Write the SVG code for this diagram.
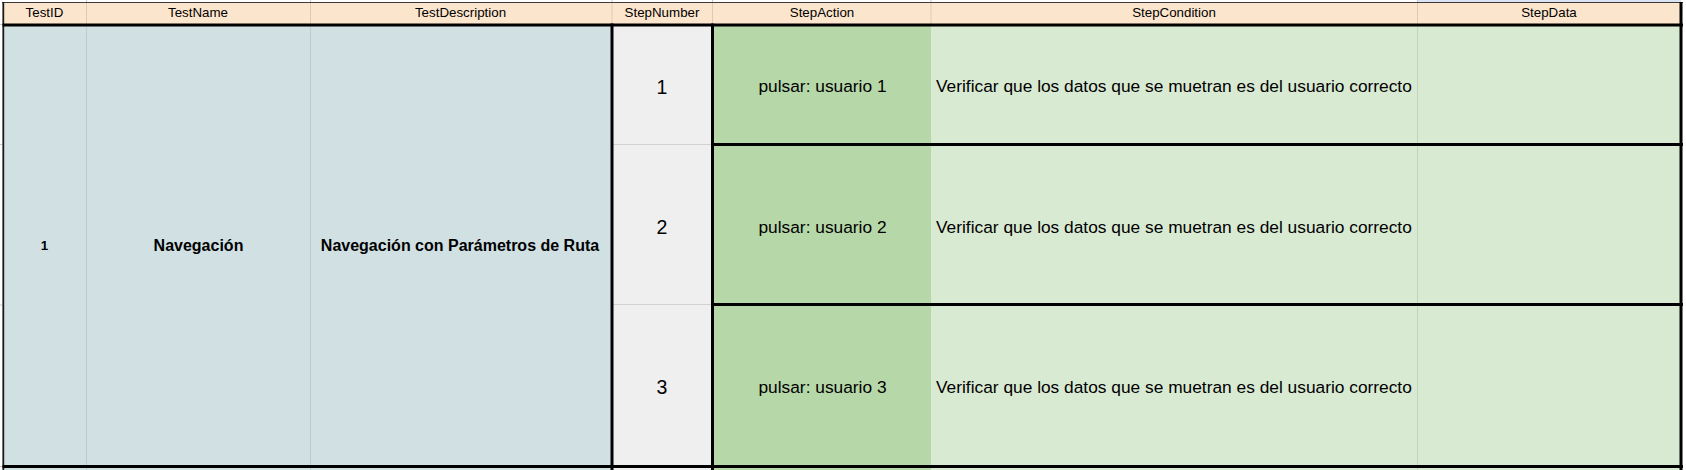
<svg xmlns="http://www.w3.org/2000/svg" width="1686" height="470" viewBox="0 0 1686 470">
<style>
.hd{fill:#fce5cd}
.bl{fill:#d0e0e3}
.gr{fill:#efefef}
.g2{fill:#b6d7a8}
.g3{fill:#d9ead3}
.ht{font-family:"Liberation Sans",Arial,sans-serif;font-size:13.33px;fill:#000;text-anchor:middle}
.bt{font-family:"Liberation Sans",Arial,sans-serif;font-size:16px;font-weight:bold;fill:#000;text-anchor:middle}
.idt{font-family:"Liberation Sans",Arial,sans-serif;font-size:13.33px;font-weight:bold;fill:#000;text-anchor:middle}
.nt{font-family:"Liberation Sans",Arial,sans-serif;font-size:19.5px;fill:#000;text-anchor:middle}
.at{font-family:"Liberation Sans",Arial,sans-serif;font-size:17.33px;fill:#000;text-anchor:middle}
.ct{font-family:"Liberation Sans",Arial,sans-serif;font-size:17.33px;fill:#000}
.thick{stroke:#000;stroke-width:3;fill:none}
.hl{stroke:#dccab5;stroke-width:1;fill:none}
.bll{stroke:#bccccf;stroke-width:1;fill:none}
.gl{stroke:#d2d2d2;stroke-width:1;fill:none}
.gnl{stroke:#c3d4bd;stroke-width:1;fill:none}
.sg{stroke:#c8c8c8;stroke-width:1;fill:none}
</style>
<rect x="0" y="0" width="1686" height="470" fill="#ffffff"/>
<rect x="1417" y="0" width="264" height="2.5" fill="#dbe4f2"/>
<g id="sheet-grid">
<line class="sg" x1="86.5" y1="0" x2="86.5" y2="2.5"/>
<line class="sg" x1="310.5" y1="0" x2="310.5" y2="2.5"/>
<line class="sg" x1="612" y1="0" x2="612" y2="2.5"/>
<line class="sg" x1="712.5" y1="0" x2="712.5" y2="2.5"/>
<line class="sg" x1="931" y1="0" x2="931" y2="2.5"/>
<line class="sg" x1="1417.5" y1="0" x2="1417.5" y2="2.5"/>
<line class="sg" x1="0" y1="24.5" x2="2.5" y2="24.5"/>
<line class="sg" x1="0" y1="144.5" x2="2.5" y2="144.5"/>
<line class="sg" x1="0" y1="305" x2="2.5" y2="305"/>
<line class="sg" x1="0" y1="466.5" x2="2.5" y2="466.5"/>
</g>
<g id="header">
<rect class="hd" x="3" y="3" width="1678" height="21"/>
<text class="ht" x="44.5" y="17.3">TestID</text>
<text class="ht" x="198" y="17.3">TestName</text>
<text class="ht" x="460.5" y="17.3">TestDescription</text>
<text class="ht" x="662" y="17.3">StepNumber</text>
<text class="ht" x="822" y="17.3">StepAction</text>
<text class="ht" x="1174" y="17.3">StepCondition</text>
<text class="ht" x="1549" y="17.3">StepData</text>
</g>
<g id="test-id">
<rect class="bl" x="3" y="25" width="83.5" height="445"/>
<text class="idt" x="44.5" y="250">1</text>
</g>
<g id="test-name">
<rect class="bl" x="86.5" y="25" width="224" height="445"/>
<text class="bt" x="198.5" y="250.5">Navegación</text>
</g>
<g id="test-description">
<rect class="bl" x="310.5" y="25" width="301.5" height="445"/>
<text class="bt" x="460" y="250.5">Navegación con Parámetros de Ruta</text>
</g>
<g id="step-1">
<rect class="gr" x="612" y="25" width="100.5" height="120"/>
<rect class="g2" x="712.5" y="25" width="218.5" height="120"/>
<rect class="g3" x="931" y="25" width="750" height="120"/>
<text class="nt" x="662" y="94">1</text>
<text class="at" x="822.5" y="91.7">pulsar: usuario 1</text>
<text class="ct" x="936" y="91.7">Verificar que los datos que se muetran es del usuario correcto</text>
</g>
<g id="step-2">
<rect class="gr" x="612" y="144.5" width="100.5" height="160"/>
<rect class="g2" x="712.5" y="144.5" width="218.5" height="160"/>
<rect class="g3" x="931" y="144.5" width="750" height="160"/>
<text class="nt" x="662" y="233.8">2</text>
<text class="at" x="822.5" y="232.7">pulsar: usuario 2</text>
<text class="ct" x="936" y="232.7">Verificar que los datos que se muetran es del usuario correcto</text>
</g>
<g id="step-3">
<rect class="gr" x="612" y="304.5" width="100.5" height="166"/>
<rect class="g2" x="712.5" y="304.5" width="218.5" height="166"/>
<rect class="g3" x="931" y="304.5" width="750" height="166"/>
<text class="nt" x="662" y="393.5">3</text>
<text class="at" x="822.5" y="392.5">pulsar: usuario 3</text>
<text class="ct" x="936" y="392.5">Verificar que los datos que se muetran es del usuario correcto</text>
</g>
<g id="connectors">
<line class="hl" x1="86.5" y1="3" x2="86.5" y2="24"/>
<line class="hl" x1="310.5" y1="3" x2="310.5" y2="24"/>
<line class="hl" x1="612" y1="3" x2="612" y2="24"/>
<line class="hl" x1="712.5" y1="3" x2="712.5" y2="24"/>
<line class="hl" x1="931" y1="3" x2="931" y2="24"/>
<line class="hl" x1="1417.5" y1="3" x2="1417.5" y2="24"/>
<line class="bll" x1="86.5" y1="25" x2="86.5" y2="470"/>
<line class="bll" x1="310.5" y1="25" x2="310.5" y2="470"/>
<line class="gnl" x1="1417.5" y1="25" x2="1417.5" y2="470"/>
<line class="gl" x1="612" y1="144.5" x2="712" y2="144.5"/>
<line class="gl" x1="612" y1="304.5" x2="712" y2="304.5"/>
<line x1="2" y1="2.5" x2="1683" y2="2.5" stroke="#3a3a3a" stroke-width="1"/>
<line x1="3.3" y1="2" x2="3.3" y2="470" stroke="#1a1a1a" stroke-width="1.8"/>
<line class="thick" x1="2.5" y1="25" x2="1683" y2="25"/>
<line class="thick" x1="2.5" y1="466.5" x2="1683" y2="466.5"/>
<line class="thick" x1="612" y1="23.5" x2="612" y2="470"/>
<line class="thick" x1="712.5" y1="23.5" x2="712.5" y2="470"/>
<line class="thick" x1="711" y1="144.5" x2="1683" y2="144.5"/>
<line class="thick" x1="711" y1="304.5" x2="1683" y2="304.5"/>
<line class="thick" x1="1681" y1="2" x2="1681" y2="470"/>
</g>
</svg>
